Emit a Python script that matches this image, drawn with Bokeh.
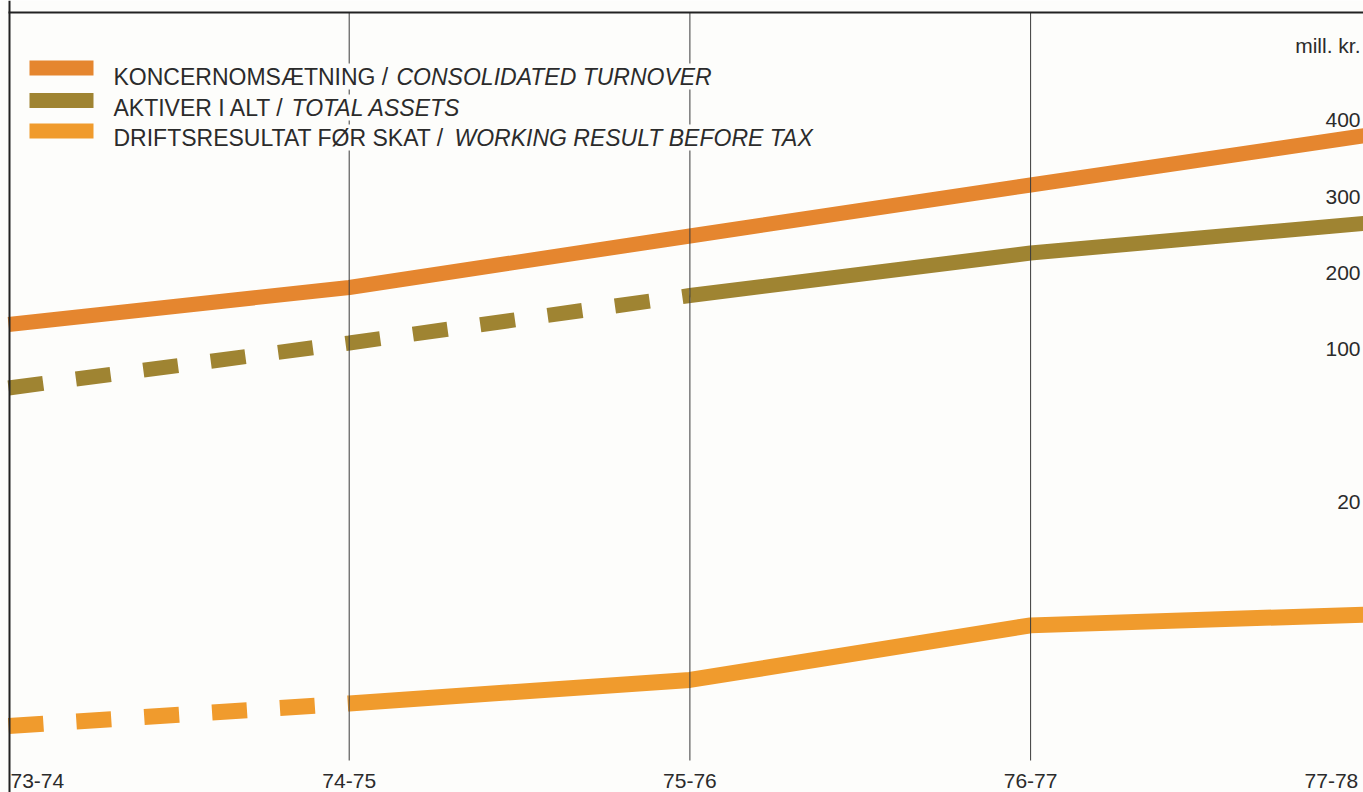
from bokeh.plotting import figure
from bokeh.models import Range1d, Span, Label
from bokeh.core.properties import value
from bokeh.embed import file_html
from bokeh.resources import INLINE

# ---- data (mill. kr.) ----
periods = ["73-74", "74-75", "75-76", "76-77", "77-78"]
xs = [0, 1, 2, 3, 4]
turnover = [132.8, 181.2, 248.7, 315.5, 381.4]      # KONCERNOMSÆTNING
assets = [49.6, 108.5, 170.7, 226.4, 266.1]         # AKTIVER I ALT
result = [2.67, 4.42, 6.24, 10.47, 11.32]           # DRIFTSRESULTAT FØR SKAT (lower scale)
main_ticks = [400, 300, 200, 100]
lower_ticks = [20]
unit_label = "mill. kr."

legend_rows = [
    ("KONCERNOMSÆTNING /", "CONSOLIDATED TURNOVER"),
    ("AKTIVER I ALT /", "TOTAL ASSETS"),
    ("DRIFTSRESULTAT FØR SKAT /", "WORKING RESULT BEFORE TAX"),
]

# ---- layout constants (pixel positions in the canvas) ----
W, H = 1363, 792
X0 = 8            # pixel of the first period
PXU = 340.7       # pixels per period
MAIN_TOP, MAIN_SCALE = 557.2, 0.7633
LOW_TOP, LOW_SCALE = 58.91, 12.9
BG = "#FDFDFB"
INK = "#2b2b2b"
FONT = "Liberation Sans"
C_TURN, C_ASSET, C_RES = "#E5862F", "#9F8432", "#F09B2D"


def X(px):
    return (px - X0) / PXU


def YM(py):
    return MAIN_TOP - py / MAIN_SCALE


p = figure(width=W, height=H, x_range=Range1d(X(0), X(W)),
           y_range=Range1d(YM(H), MAIN_TOP), output_backend="svg",
           toolbar_location=None, min_border=0,
           x_axis_location=None, y_axis_location=None)
p.extra_y_ranges = {"low": Range1d(LOW_TOP - H / LOW_SCALE, LOW_TOP)}
p.grid.visible = False
p.outline_line_color = None
p.background_fill_color = BG
p.border_fill_color = BG

LW = 15
DASH = "35 33"

# turnover
p.line(xs, turnover, line_color=C_TURN, line_width=LW, line_join="round")
# total assets: dashed for the first two periods, solid afterwards
p.line(xs[:3], assets[:3], line_color=C_ASSET, line_width=LW, line_dash=DASH)
p.line(xs[2:], assets[2:], line_color=C_ASSET, line_width=LW, line_join="round")
# working result (lower scale)
p.line(xs[:2], result[:2], line_color=C_RES, line_width=LW + 1, line_dash=DASH,
       y_range_name="low")
p.line(xs[1:], result[1:], line_color=C_RES, line_width=LW + 1, line_join="round",
       y_range_name="low")

# vertical period lines
p.segment(x0=xs[1:4], y0=YM(12), x1=xs[1:4], y1=YM(760),
          line_color="#3a3a3a", line_width=1)

# frame (top and left)
p.segment(x0=[X(8)], y0=[YM(12)], x1=[X(W)], y1=[YM(12)],
          line_color="#222222", line_width=2)
p.add_layout(Span(location=X(9), dimension="height", line_color="#222222", line_width=2))

# right-side tick labels
p.text(x=X(1360), y=main_ticks, text=[str(t) for t in main_ticks],
       text_align="right", text_baseline="middle", text_font=value(FONT),
       text_font_size="21px", text_color=INK)
p.text(x=X(1360), y=lower_ticks, text=[str(t) for t in lower_ticks],
       text_align="right", text_baseline="middle", text_font=value(FONT),
       text_font_size="21px", text_color=INK, y_range_name="low")
p.add_layout(Label(x=X(1360), y=YM(45), text=unit_label, text_align="right",
                   text_baseline="middle", text_font=FONT, text_font_size="21px",
                   text_color=INK))

# period labels along the bottom
for i, per in enumerate(periods):
    if i == 0:
        align, off = "left", 2
    elif i == len(periods) - 1:
        align, off = "right", -13
    else:
        align, off = "center", 0
    p.add_layout(Label(x=xs[i], y=YM(780), x_offset=off, text=per, text_align=align,
                       text_baseline="middle", text_font=FONT, text_font_size="21px",
                       text_color=INK))

# legend
swatch_cy = [67.5, 100, 130.5]
text_base = [76, 107, 137]
italic_x = [396, 291, 454]
colors = [C_TURN, C_ASSET, C_RES]
for (norm, ital), c, sy, ty, ix in zip(legend_rows, colors, swatch_cy, text_base, italic_x):
    p.quad(left=X(29), right=X(93), top=YM(sy - 7.5), bottom=YM(sy + 7.5),
           fill_color=c, line_color=None)
    p.add_layout(Label(x=X(113), y=YM(ty), text=norm, text_align="left",
                       text_baseline="alphabetic", text_font=FONT, text_font_size="23px",
                       text_color=INK, background_fill_color=BG))
    p.add_layout(Label(x=X(ix), y=YM(ty), text=ital, text_align="left",
                       text_baseline="alphabetic", text_font=FONT, text_font_size="23px",
                       text_font_style="italic", text_color=INK,
                       background_fill_color=BG))

open("out.html", "w").write(file_html(p, INLINE))
